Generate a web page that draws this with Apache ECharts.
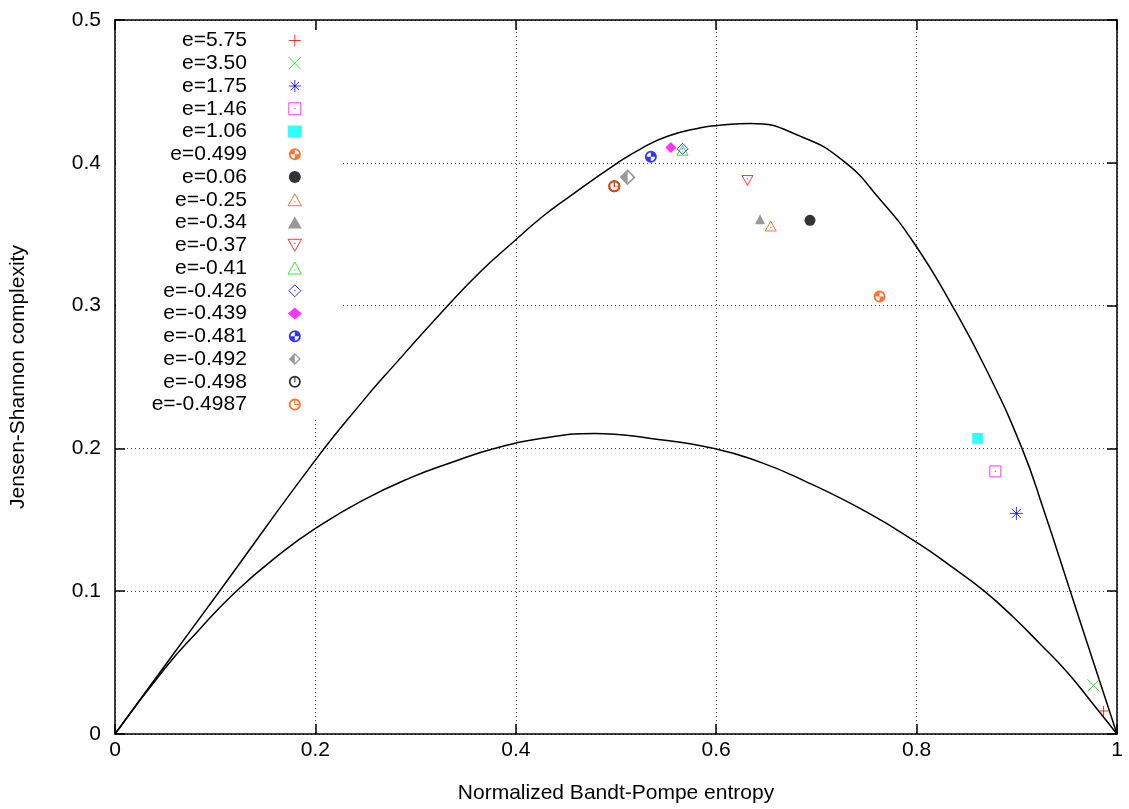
<!DOCTYPE html>
<html>
<head>
<meta charset="utf-8">
<script src="https://cdn.jsdelivr.net/npm/echarts@6/dist/echarts.min.js"></script>
<style>html,body{margin:0;padding:0;background:#fff}#c{width:1129px;height:809px}</style>
</head>
<body>
<div id="c"></div>
<script>
// ---- data ----
var upperX = [0, 0.0495, 0.1043, 0.2007, 0.249, 0.2691, 0.3322, 0.3654, 0.3986, 0.4252, 0.4518, 0.5016, 0.5265, 0.5515, 0.5846, 0.6013, 0.6345, 0.6843, 0.7275, 0.764, 0.7972, 0.8355, 0.8704, 0.9052, 0.9268, 0.9534, 0.9766, 1];
var upperY = [0, 0.0476, 0.1, 0.1925, 0.2345, 0.2508, 0.3, 0.3242, 0.3452, 0.3615, 0.3755, 0.4, 0.4105, 0.4186, 0.4245, 0.4261, 0.4275, 0.4185, 0.401, 0.3739, 0.344, 0.3, 0.254, 0.2, 0.157, 0.1, 0.05, 0];
var lowerX = [0, 0.0495, 0.0827, 0.121, 0.1648, 0.1993, 0.2458, 0.2957, 0.3372, 0.3787, 0.4319, 0.4783, 0.5348, 0.5979, 0.6444, 0.6843, 0.7508, 0.8039, 0.8338, 0.867, 0.8969, 0.9235, 0.9501, 0.9733, 1];
var lowerY = [0, 0.0457, 0.072, 0.1, 0.1261, 0.1436, 0.1631, 0.1797, 0.1905, 0.2, 0.2077, 0.2105, 0.207, 0.2, 0.1902, 0.1785, 0.1552, 0.1324, 0.1177, 0.1004, 0.0816, 0.0629, 0.0434, 0.0235, 0];
var labels = ['e=5.75', 'e=3.50', 'e=1.75', 'e=1.46', 'e=1.06', 'e=0.499', 'e=0.06', 'e=-0.25', 'e=-0.34', 'e=-0.37', 'e=-0.41', 'e=-0.426', 'e=-0.439', 'e=-0.481', 'e=-0.492', 'e=-0.498', 'e=-0.4987'];
var pointX = [0.9866, 0.9766, 0.8996, 0.8786, 0.861, 0.763, 0.6936, 0.6544, 0.6438, 0.6312, 0.5664, 0.5664, 0.5548, 0.5348, 0.5116, 0.4983, 0.4983];
var pointY = [0.0161, 0.034, 0.1545, 0.1839, 0.207, 0.3063, 0.3597, 0.3557, 0.3604, 0.3876, 0.4088, 0.4098, 0.4107, 0.4042, 0.3899, 0.3836, 0.3836];
var xTicks = [0, 0.2, 0.4, 0.6, 0.8, 1];
var yTicks = [0, 0.1, 0.2, 0.3, 0.4, 0.5];

// ---- marker shapes ----
var ring = 'M10 0A10 10 0 0 1 20 10A10 10 0 0 1 10 20A10 10 0 0 1 0 10A10 10 0 0 1 10 0Z' +
  'M10 3A7 7 0 0 0 3 10A7 7 0 0 0 10 17A7 7 0 0 0 17 10A7 7 0 0 0 10 3Z';
var qTR = 'M10 10L10 3A7 7 0 0 1 17 10Z';
var qBR = 'M10 10L17 10A7 7 0 0 1 10 17Z';
var qBL = 'M10 10L10 17A7 7 0 0 1 3 10Z';
var qTL = 'M10 10L3 10A7 7 0 0 1 10 3Z';
var handUp = 'M9.1 3H10.9V10.9H9.1Z';
var handRight = 'M9.1 9.1H17V10.9H9.1Z';
var S = {
  plus: 'path://M5 0V10M0 5H10',
  cross: 'path://M0 0L10 10M10 0L0 10',
  star: 'path://M5 0V10M0 5H10M1.5 1.5L8.5 8.5M8.5 1.5L1.5 8.5',
  sqDot: 'path://M0 0H10V10H0ZM4.4 5H5.6',
  triDot: 'path://M5 0L10 9H0ZM4.4 6H5.6',
  invTriDot: 'path://M0 0H10L5 9ZM4.4 3H5.6',
  diaDot: 'path://M5 0L10 5L5 10L0 5ZM4.4 5H5.6',
  quartA: 'path://' + ring + qTL + qBR,
  quartB: 'path://' + ring + qTR + qBL,
  halfDia: 'path://M10 0L20 10L10 20L0 10ZM10 3L3 10L10 17L17 10ZM10 3L10 17L3 10Z',
  clock1: 'path://' + ring + handUp,
  clock2: 'path://' + ring + handUp + handRight
};
var orange = '#ff4f00';
// per-series style: [symbol, size, color, stroked]
var styles = [
  [S.plus, 10, '#ff0000', true],
  [S.cross, 12, '#00e600', true],
  [S.star, 13, '#0000ff', true],
  [S.sqDot, 11, '#ff00ff', true],
  ['rect', 11, '#00ffff', false],
  [S.quartA, 12, orange, false],
  ['circle', 11, '#000000', false],
  [S.triDot, 11, orange, true],
  ['triangle', 10, '#808080', false],
  [S.invTriDot, 11, '#ff0000', true],
  [S.triDot, 11, '#00e600', true],
  [S.diaDot, 11, '#0000ff', true],
  ['diamond', 11, '#ff00ff', false],
  [S.quartB, 12, '#0000ff', false],
  [S.halfDia, 16, '#808080', false],
  [S.clock1, 12, '#000000', false],
  [S.clock2, 12, orange, false]
];

var font = "'Liberation Sans', Arial, Helvetica, sans-serif";
var fs = 21;
var series = [];
series.push({
  type: 'line', name: 'upper', data: upperX.map(function (x, i) { return [x, upperY[i]]; }),
  showSymbol: false, symbol: 'none', smooth: 0.5, lineStyle: { color: '#000', width: 1.5 }, z: 3, silent: true
});
series.push({
  type: 'line', name: 'lower', data: lowerX.map(function (x, i) { return [x, lowerY[i]]; }),
  showSymbol: false, symbol: 'none', smooth: 0.5, lineStyle: { color: '#000', width: 1.5 }, z: 3, silent: true
});
var legendData = [];
labels.forEach(function (lab, i) {
  var st = styles[i];
  series.push({
    type: 'scatter', name: lab, data: [[pointX[i], pointY[i]]],
    symbol: st[0], symbolSize: st[1], symbolKeepAspect: true,
    itemStyle: st[3] ? { color: 'rgba(0,0,0,0)', borderColor: st[2], borderWidth: 1 }
                     : { color: st[2], borderColor: st[2], borderWidth: 0 },
    z: 5 + i
  });
  legendData.push({ name: lab, itemStyle: { borderWidth: st[3] ? 1 : 0 } });
});

var chart = echarts.init(document.getElementById('c'), null, { renderer: 'canvas' });
var axisLine = { show: true, onZero: false, lineStyle: { color: '#000', width: 1.5 } };
var tick = { show: true, inside: true, length: 10, lineStyle: { color: '#000', width: 1.5 } };
var split = { show: true, lineStyle: { color: '#444', width: 1, type: [1, 3] } };
chart.setOption({
  animation: false,
  backgroundColor: '#fff',
  textStyle: { fontFamily: font },
  grid: { left: 114, right: 12, top: 20, bottom: 74 },
  graphic: [{
    type: 'rect', z: 1, silent: true,
    shape: { x: 116, y: 31, width: 224, height: 386 },
    style: { fill: '#fff' }
  }],
  legend: {
    data: legendData,
    orient: 'vertical', align: 'right',
    right: 827, top: 30, padding: 0,
    itemWidth: 14, itemHeight: 12, itemGap: 1.75,
    selectedMode: false,
    textStyle: { fontFamily: font, fontSize: fs, color: '#000', lineHeight: 21, padding: [0, 36, 0, 0] },
    z: 10
  },
  xAxis: [{
    type: 'value', min: 0, max: 1, interval: 0.2,
    name: 'Normalized Bandt-Pompe entropy', nameLocation: 'middle', nameGap: 49,
    nameTextStyle: { fontFamily: font, fontSize: fs, color: '#000' },
    axisLine: axisLine, axisTick: tick, splitLine: split,
    axisLabel: { fontFamily: font, fontSize: fs, color: '#000', margin: 6 }
  }, {
    type: 'value', min: 0, max: 1, interval: 0.2, position: 'top',
    axisLine: axisLine, axisTick: tick, splitLine: { show: false }, axisLabel: { show: false }
  }],
  yAxis: [{
    type: 'value', min: 0, max: 0.5, interval: 0.1,
    name: 'Jensen-Shannon complexity', nameLocation: 'middle', nameGap: 86,
    nameTextStyle: { fontFamily: font, fontSize: fs, color: '#000' },
    axisLine: axisLine, axisTick: tick, splitLine: split,
    axisLabel: { fontFamily: font, fontSize: fs, color: '#000', margin: 14 }
  }, {
    type: 'value', min: 0, max: 0.5, interval: 0.1, position: 'right',
    axisLine: axisLine, axisTick: tick, splitLine: { show: false }, axisLabel: { show: false }
  }],
  series: series
});
</script>
</body>
</html>
